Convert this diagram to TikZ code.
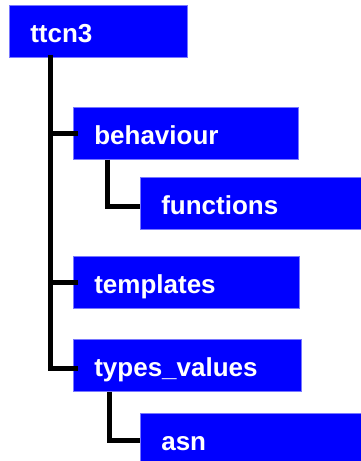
\documentclass[tikz,border=0pt]{standalone}
\usepackage{fontspec}
\setmainfont{Liberation Sans}
\usetikzlibrary{positioning}

\tikzset{
	dirbox/.style={rectangle, fill={rgb,255:red,0;green,0;blue,255}, draw={rgb,255:red,120;green,120;blue,255}, line width=0.6pt,
		anchor=north west, minimum height=52pt, inner xsep=21pt, text height=22pt, text depth=0pt,
		text=white, font=\fontsize{26}{30}\selectfont\bfseries, align=left},
	treeline/.style={line width=5pt, black}
}

\begin{document}
\begin{tikzpicture}[x=1pt, y=-1pt]
		\useasboundingbox (0,0) rectangle (360,461);
		
		% Folders
		\node[dirbox, minimum width=178pt, text width=136pt] (ttcn3) at (9,5) {ttcn3};
		\node[dirbox, minimum width=225pt, text width=183pt] (behaviour) at (73,107) {behaviour};
		\node[dirbox, minimum width=230pt, text width=188pt] (functions) at (140,177) {functions};
		\node[dirbox, minimum width=226pt, text width=184pt] (templates) at (73,256) {templates};
		\node[dirbox, minimum width=228pt, text width=186pt] (types_values) at (73,339) {types\_values};
		\node[dirbox, minimum width=230pt, text width=188pt] (asn) at (140,413) {asn};
		
		% Tree lines
		\draw[treeline] ([xshift=41pt, yshift=3pt]ttcn3.south west) |- ([xshift=5pt, yshift=-3pt]types_values.west);
		\draw[treeline] ([xshift=41pt]ttcn3.south west |- behaviour.west) -- ([xshift=5pt]behaviour.west);
		\draw[treeline] ([xshift=41pt]ttcn3.south west |- templates.west) -- ([xshift=5pt]templates.west);
		
		\draw[treeline] ([xshift=34pt]behaviour.south west) |- ([yshift=-3pt]functions.west);
		\draw[treeline] ([xshift=36pt]types_values.south west) |- ([yshift=-1pt]asn.west);
	\end{tikzpicture}
\end{document}
